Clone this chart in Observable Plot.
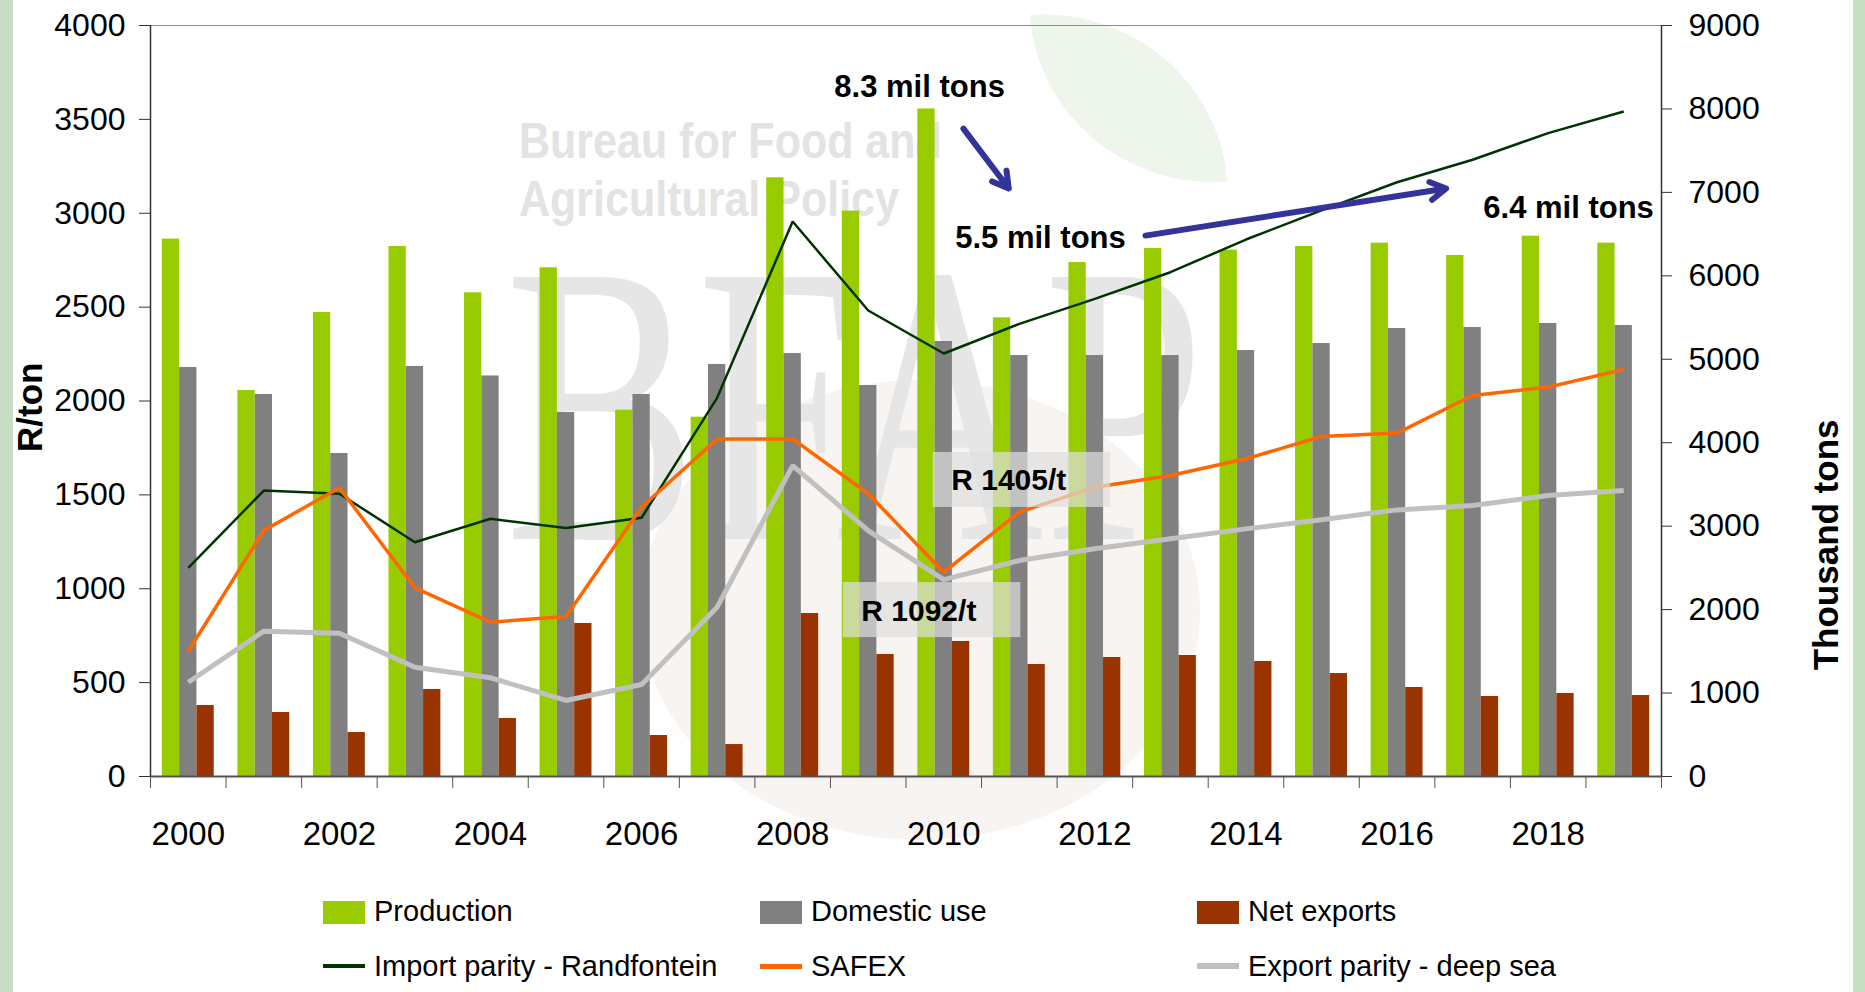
<!DOCTYPE html>
<html>
<head>
<meta charset="utf-8">
<script src="https://cdn.jsdelivr.net/npm/d3@7"></script>
<script src="https://cdn.jsdelivr.net/npm/@observablehq/plot@0.6"></script>
<style>
  html, body { margin: 0; padding: 0; background: #fff; width: 1865px; height: 992px; overflow: hidden;
    font-family: "Liberation Sans", Arial, Helvetica, sans-serif; }
  #wrap { position: relative; width: 1865px; height: 992px; }
  .border { position: absolute; top: 0; bottom: 0; background: #c6dfc3; z-index: 10; }
  .wm { position: absolute; z-index: 0; white-space: nowrap; transform-origin: 0 0; }
  #chart { position: absolute; left: 0; top: 0; z-index: 2; }
  #legend { position: absolute; left: 0; top: 860px; width: 1865px; height: 132px; z-index: 3; }
  .lg { position: absolute; font-size: 29px; color: #000; white-space: nowrap; line-height: 1; }
  .sw { position: absolute; }
</style>
</head>
<body>
<div id="wrap">
  <div class="border" style="left:0;width:13px"></div>
  <div class="border" style="left:1853px;width:12px"></div>
  <!-- faint watermark -->
  <div class="wm" style="left:1030px;top:15px;width:185px;height:180px;background:#eef5ea;border-radius:0 100% 0 100%;transform:rotate(-4deg);"></div>
  <div class="wm" style="left:640px;top:380px;width:560px;height:460px;background:#f8f4f2;border-radius:50%;"></div>
  <div class="wm" style="left:519px;top:112px;font-size:50px;font-weight:bold;color:#e3e3e3;transform:scaleX(0.86);">Bureau for Food and</div>
  <div class="wm" style="left:519px;top:170px;font-size:50px;font-weight:bold;color:#e3e3e3;transform:scaleX(0.86);">Agricultural Policy</div>
  <div class="wm" style="left:505px;top:185px;font-size:400px;font-family:'Liberation Serif',serif;color:#e6e6e6;transform:scaleX(0.72);line-height:1.1;">BFAP</div>
  <div id="chart"></div>
  <div id="legend"></div>
</div>
<script>
// ---------------- data ----------------
const years = [2000, 2001, 2002, 2003, 2004, 2005, 2006, 2007, 2008, 2009,
               2010, 2011, 2012, 2013, 2014, 2015, 2016, 2017, 2018, 2019];
// thousand tons (right axis)
const production = [6440, 4626, 5561, 6352, 5797, 6097, 4390, 4306, 7175, 6776,
                    8000, 5497, 6160, 6328, 6308, 6352, 6392, 6244, 6475, 6392];
const domesticUse = [4902, 4578, 3871, 4914, 4800, 4362, 4578, 4938, 5069, 4686,
                     5213, 5045, 5045, 5045, 5105, 5189, 5369, 5381, 5429, 5405];
const netExports = [851, 767, 527, 1043, 695, 1834, 491, 383, 1953, 1462,
                    1618, 1342, 1426, 1450, 1378, 1234, 1067, 959, 995, 971];
// R/ton (left axis)
const importParity = [1111, 1523, 1506, 1248, 1373, 1323, 1378, 2017, 2956, 2482,
                      2253, 2411, 2544, 2686, 2860, 3015, 3165, 3285, 3427, 3542];
const safex = [667, 1310, 1538, 1005, 822, 852, 1434, 1798, 1798, 1506,
               1088, 1408, 1541, 1603, 1692, 1811, 1829, 2029, 2074, 2168];
const exportParity = [502, 774, 763, 582, 526, 405, 490, 902, 1656, 1310,
                      1049, 1150, 1213, 1266, 1319, 1367, 1420, 1443, 1497, 1523];

const leftTicks = [0, 500, 1000, 1500, 2000, 2500, 3000, 3500, 4000];
const rightTicks = [0, 1000, 2000, 3000, 4000, 5000, 6000, 7000, 8000, 9000];
const xLabelYears = [2000, 2002, 2004, 2006, 2008, 2010, 2012, 2014, 2016, 2018];

const leftTitle = "R/ton";
const rightTitle = "Thousand tons";

// annotations (positioned in data units: x = year, y = R/ton)
const annLabels = [
  {text: "8.3 mil tons", x: 2009.68, y: 3670},
  {text: "5.5 mil tons", x: 2011.28, y: 2866},
  {text: "6.4 mil tons", x: 2018.27, y: 3025}
];
const annArrows = [
  {x1: 2010.26, y1: 3451, x2: 2010.86, y2: 3132},
  {x1: 2012.67, y1: 2881, x2: 2016.65, y2: 3132}
];
const priceBoxes = [
  {text: "R 1405/t", x1: 2009.86, x2: 2012.21, y1: 1433, y2: 1726, cx: 2010.86, cy: 1577},
  {text: "R 1092/t", x1: 2008.67, x2: 2011.02, y1: 740, y2: 1033, cx: 2009.67, cy: 879}
];

const seriesBars = [
  {name: "Production", values: production, color: "#99cc00"},
  {name: "Domestic use", values: domesticUse, color: "#808080"},
  {name: "Net exports", values: netExports, color: "#993300"}
];
const seriesLines = [
  {name: "Import parity - Randfontein", values: importParity, color: "#003300", width: 2.5},
  {name: "SAFEX", values: safex, color: "#ff6600", width: 3.5},
  {name: "Export parity - deep sea", values: exportParity, color: "#c0c0c0", width: 5}
];

// ---------------- layout ----------------
const W = 1865, H = 860;
const mL = 150, mR = 204, mT = 25, mB = 84;
const leftMax = 4000, rightMax = 9000;
const k = leftMax / rightMax;             // right-axis units -> left-axis units
const bw = (W - mL - mR) / years.length;  // band width in px
const barW = 17.3;

const rows = years.map((year, i) => ({year, i}));
const boundaries = years.map(y => y - 0.5).concat([years[years.length - 1] + 0.5]);

const barMarks = seriesBars.map((s, j) => {
  const left = bw / 2 + (j - 1) * barW - barW / 2;
  const right = bw - left - barW;
  return Plot.rectY(rows, {
    x1: d => d.year - 0.5, x2: d => d.year + 0.5,
    y1: 0, y2: d => s.values[d.i] * k,
    fill: s.color, insetLeft: left, insetRight: right
  });
});

const lineMarks = seriesLines.map(s => Plot.line(rows, {
  x: "year", y: d => s.values[d.i], stroke: s.color, strokeWidth: s.width,
  strokeLinejoin: "miter", strokeLinecap: "butt"
}));

const chart = Plot.plot({
  width: W, height: H,
  marginLeft: mL, marginRight: mR, marginTop: mT, marginBottom: mB,
  style: {background: "none", fontFamily: "'Liberation Sans', Arial, Helvetica, sans-serif", color: "#000", overflow: "visible"},
  x: {type: "linear", domain: [years[0] - 0.5, years[years.length - 1] + 0.5], axis: null},
  y: {domain: [0, leftMax], axis: null},
  marks: [
    ...barMarks,
    ...lineMarks,
    // annotation boxes
    Plot.rect(priceBoxes, {x1: "x1", x2: "x2", y1: "y1", y2: "y2", fill: "#dedede", fillOpacity: 0.7}),
    Plot.text(priceBoxes, {x: "cx", y: "cy", text: "text", fontSize: 30, fontWeight: "bold", fill: "#000"}),
    // frame lines
    Plot.ruleY([leftMax], {stroke: "#8c8c8c", strokeWidth: 1.2}),
    Plot.ruleY([0], {stroke: "#555", strokeWidth: 2}),
    Plot.ruleX([years[0] - 0.5], {stroke: "#333", strokeWidth: 1.5}),
    Plot.ruleX([years[years.length - 1] + 0.5], {stroke: "#333", strokeWidth: 1.5}),
    // axes
    Plot.axisY(leftTicks, {anchor: "left", tickSize: 11, tickPadding: 14, fontSize: 32, stroke: "#333",
      tickFormat: d => String(d), label: null}),
    Plot.axisY(rightTicks.map(v => v * k), {anchor: "right", tickSize: 10, tickPadding: 17, fontSize: 32, stroke: "#333",
      tickFormat: d => String(Math.round(d / k)), label: null}),
    Plot.axisX(boundaries, {anchor: "bottom", tickSize: 12, stroke: "#555", tickFormat: () => "", label: null}),
    Plot.axisX(xLabelYears, {anchor: "bottom", tickSize: 0, tickPadding: 45, fontSize: 33, tickFormat: d => String(d), label: null}),
    // axis titles
    Plot.text([leftTitle], {text: d => d, frameAnchor: "left", rotate: -90, dx: -120, dy: 51, fontSize: 35, fontWeight: "bold", fill: "#000"}),
    Plot.text([rightTitle], {text: d => d, frameAnchor: "right", rotate: -90, dx: 165, dy: 18.5, fontSize: 35, fontWeight: "bold", fill: "#000"}),
    // annotations
    Plot.arrow(annArrows, {x1: "x1", y1: "y1", x2: "x2", y2: "y2", stroke: "#333399", strokeWidth: 6,
      headLength: 4.5, headAngle: 60, strokeLinejoin: "miter"}),
    Plot.text(annLabels, {x: "x", y: "y", text: "text", fontSize: 31, fontWeight: "bold", fill: "#000"})
  ]
});
document.getElementById("chart").appendChild(chart);

// ---------------- legend (HTML, below the SVG) ----------------
const legend = document.getElementById("legend");
const colX = [323, 760, 1197];
seriesBars.forEach((s, j) => {
  const sw = document.createElement("div");
  sw.className = "sw";
  sw.style.cssText = `left:${colX[j]}px;top:41px;width:42px;height:23px;background:${s.color}`;
  legend.appendChild(sw);
  const t = document.createElement("div");
  t.className = "lg";
  t.style.cssText = `left:${colX[j] + 51}px;top:37px`;
  t.textContent = s.name;
  legend.appendChild(t);
});
seriesLines.forEach((s, j) => {
  const sw = document.createElement("div");
  sw.className = "sw";
  const h = Math.max(3, Math.round(s.width + 1));
  sw.style.cssText = `left:${colX[j]}px;top:${106 - h / 2}px;width:42px;height:${h}px;background:${s.color}`;
  legend.appendChild(sw);
  const t = document.createElement("div");
  t.className = "lg";
  t.style.cssText = `left:${colX[j] + 51}px;top:92px`;
  t.textContent = s.name;
  legend.appendChild(t);
});
</script>
</body>
</html>
